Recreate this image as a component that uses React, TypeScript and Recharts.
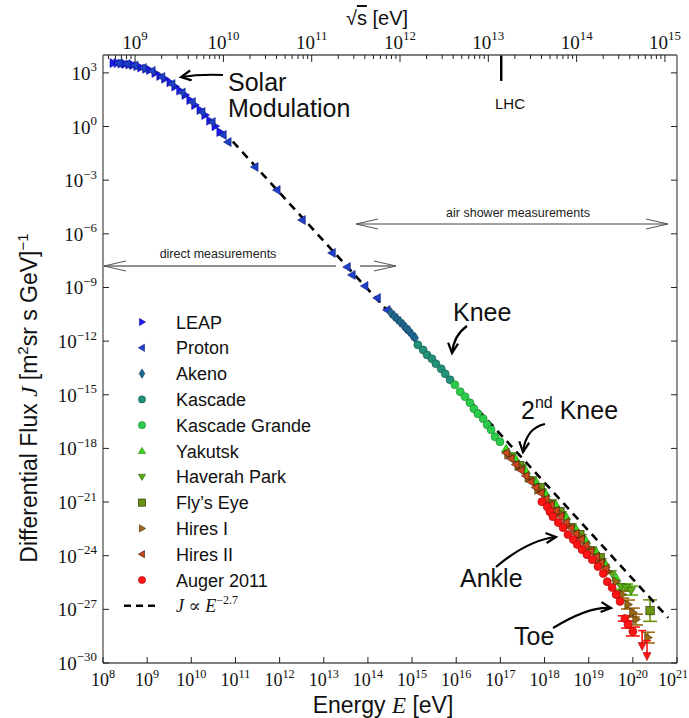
import React from 'react';
import { ScatterChart, Scatter, XAxis, YAxis, ErrorBar, Legend, ReferenceLine } from 'recharts';

// All values are log10: energy E in eV, flux J in m^-2 sr^-1 s^-1 GeV^-1.
// Optional third entry is the error in decades.
type Pt = [number, number, number?];

const leap: Pt[] = [
  [8.23, 3.55], [8.32, 3.55], [8.41, 3.52], [8.5, 3.5], [8.59, 3.47], [8.68, 3.44],
  [8.77, 3.38], [8.86, 3.3], [8.97, 3.23], [9.06, 3.16], [9.18, 3.0], [9.29, 2.83],
  [9.4, 2.67], [9.52, 2.47], [9.63, 2.24], [9.74, 2.01], [9.86, 1.77], [9.97, 1.48],
  [10.08, 1.2], [10.2, 0.92], [10.31, 0.64], [10.42, 0.33], [10.54, 0.02], [10.65, -0.31],
];

const proton: Pt[] = [
  [8.36, 3.54], [8.54, 3.49], [8.72, 3.41], [8.91, 3.27], [9.11, 3.11], [9.33, 2.77],
  [9.56, 2.38], [9.79, 1.9], [10.02, 1.37], [10.24, 0.81], [10.47, 0.25], [10.72, -0.47],
  [10.83, -0.87], [11.44, -2.26], [11.94, -3.55], [12.51, -5.23], [13.19, -7.07],
  [13.53, -7.86], [13.64, -8.3], [13.93, -8.92], [14.21, -9.59], [14.43, -10.26],
];

const akeno: Pt[] = [
  [14.52, -10.42], [14.59, -10.59], [14.66, -10.75], [14.73, -10.92], [14.8, -11.09],
  [14.86, -11.26], [14.93, -11.42], [15.0, -11.65], [15.07, -11.82],
];

const kascade: Pt[] = [
  [15.13, -12.21], [15.25, -12.49], [15.34, -12.77], [15.45, -12.99], [15.54, -13.27],
  [15.66, -13.55], [15.75, -13.83], [15.86, -14.16],
];

const kascadeGrande: Pt[] = [
  [15.97, -14.44], [16.09, -14.83], [16.2, -15.11], [16.31, -15.45], [16.4, -15.78],
  [16.49, -16.06], [16.61, -16.34], [16.7, -16.68], [16.79, -16.96], [16.88, -17.35],
  [16.99, -17.63],
];

const yakutsk: Pt[] = [
  [17.13, -18.02], [17.35, -18.58], [17.58, -19.25], [17.81, -19.86], [18.03, -20.53],
  [18.26, -21.15], [18.49, -21.82], [18.71, -22.49], [18.94, -23.16], [19.17, -23.77],
  [19.39, -24.5], [19.62, -25.22],
];

const haverahPark: Pt[] = [
  [17.26, -18.41], [17.49, -19.08], [17.72, -19.75], [17.94, -20.42], [18.17, -21.03],
  [18.4, -21.7], [18.62, -22.37], [18.85, -22.98], [19.08, -23.66], [19.3, -24.33],
  [19.53, -25.0], [19.73, -25.73, 0.15], [19.85, -25.78, 0.2], [19.96, -25.95, 0.25],
];

const flysEye: Pt[] = [
  [17.44, -18.97], [17.9, -20.2], [18.35, -21.54], [18.8, -22.82], [19.26, -24.11],
  [20.39, -27.07, 0.6],
];

const hiresI: Pt[] = [
  [17.17, -18.35], [17.4, -18.97], [17.63, -19.64], [17.85, -20.31], [18.08, -20.92],
  [18.31, -21.59], [18.53, -22.26], [18.76, -22.88], [18.99, -23.55], [19.21, -24.22],
  [19.44, -24.89], [19.62, -25.45], [19.76, -26.17, 0.2], [19.89, -26.73, 0.25],
  [20.0, -27.18, 0.25], [20.07, -27.57, 0.3], [20.34, -28.58, 0.3],
];

const hiresII: Pt[] = [
  [17.13, -18.25], [17.24, -18.58], [17.35, -18.9], [17.47, -19.22], [17.58, -19.54],
  [17.69, -19.87], [17.8, -20.19], [17.92, -20.51], [18.03, -20.83], [18.15, -21.16],
  [18.26, -21.48], [18.37, -21.8], [18.49, -22.13], [18.6, -22.45], [18.71, -22.77],
  [18.83, -23.09], [18.94, -23.42], [19.05, -23.74], [19.17, -24.06], [19.28, -24.39],
  [19.39, -24.71],
];

const auger: Pt[] = [
  [17.94, -20.98], [18.06, -21.26], [18.12, -21.54], [18.19, -21.82], [18.31, -22.15],
  [18.42, -22.43], [18.53, -22.82], [18.65, -23.1], [18.74, -23.38], [18.85, -23.66],
  [18.96, -23.94], [19.08, -24.22], [19.21, -24.61], [19.33, -25.0], [19.42, -25.45],
  [19.53, -25.78], [19.62, -26.17], [19.71, -26.56], [19.82, -27.51, 0.15],
  [19.89, -27.85, 0.2], [20.0, -28.24, 0.25],
];

const augerLimits: Pt[] = [[20.21, -28.97], [20.32, -29.53]];

// J ∝ E^-2.7 reference line, end points
const powerLaw: Pt[] = [[10.94, -0.84], [20.8, -27.47]];

const xTicks = [8, 9, 10, 11, 12, 13, 14, 15, 16, 17, 18, 19, 20, 21];
const yTicks = [-30, -27, -24, -21, -18, -15, -12, -9, -6, -3, 0, 3];
const LHC_SQRT_S = 1.4e13;

// fixed target: s = 2 m_p E  ->  log E = 2 log sqrt(s) - log(2 m_p)
const LOG_2MP = Math.log10(2 * 0.938e9);
const toLogE = (logSqrtS: number) => 2 * logSqrtS - LOG_2MP;

const W = 689;
const H = 718;
const PLOT = { left: 103, right: 677, top: 55, bottom: 663 };
const X_DOMAIN: [number, number] = [8, 21];
const Y_DOMAIN: [number, number] = [-30, 4];

const SANS = '"Liberation Sans", Arial, Helvetica, sans-serif';
const SERIF = '"Liberation Serif", "DejaVu Serif", serif';
const AXIS = { stroke: '#555', strokeWidth: 1.3 };

const topTicks: number[] = [];
for (let n = 8; n <= 15; n++) {
  for (let k = 1; k <= 9; k++) {
    const v = toLogE(n + Math.log10(k));
    if (v >= X_DOMAIN[0] && v <= X_DOMAIN[1]) topTicks.push(v);
  }
}

type Kind = 'right' | 'left' | 'diamond' | 'circle' | 'up' | 'down' | 'square' | 'limit';

function glyph(kind: Kind, cx: number, cy: number, r: number, fill: string, stroke: string, sw = 0.6) {
  const poly = (pts: number[][]) => (
    <polygon points={pts.map((p) => p.join(',')).join(' ')} fill={fill} stroke={stroke} strokeWidth={sw} />
  );
  switch (kind) {
    case 'circle':
      return <circle cx={cx} cy={cy} r={r} fill={fill} stroke={stroke} strokeWidth={sw} />;
    case 'square':
      return <rect x={cx - r} y={cy - r} width={2 * r} height={2 * r} fill={fill} stroke={stroke} strokeWidth={sw} />;
    case 'diamond':
      return poly([[cx, cy - r * 1.3], [cx + r * 0.8, cy], [cx, cy + r * 1.3], [cx - r * 0.8, cy]]);
    case 'right':
      return poly([[cx + r, cy], [cx - r * 0.7, cy - r], [cx - r * 0.7, cy + r]]);
    case 'left':
      return poly([[cx - r, cy], [cx + r * 0.7, cy - r], [cx + r * 0.7, cy + r]]);
    case 'up':
      return poly([[cx, cy - r], [cx + r, cy + r * 0.7], [cx - r, cy + r * 0.7]]);
    case 'down':
      return poly([[cx, cy + r], [cx + r, cy - r * 0.7], [cx - r, cy - r * 0.7]]);
    case 'limit':
      return (
        <g>
          <line x1={cx} x2={cx} y1={cy - 14} y2={cy} stroke={fill} strokeWidth={1.6} />
          <line x1={cx - 4} x2={cx + 4} y1={cy - 14} y2={cy - 14} stroke={fill} strokeWidth={1.6} />
          {poly([[cx, cy + r + 2], [cx + r, cy - 2], [cx - r, cy - 2]])}
        </g>
      );
  }
  return <g />;
}

interface SeriesDef { name: string; data: Pt[]; kind: Kind; fill: string; stroke: string; r: number }

const SERIES: SeriesDef[] = [
  { name: 'LEAP', data: leap, kind: 'right', fill: '#1a1aee', stroke: '#0c0c9a', r: 4.5 },
  { name: 'Proton', data: proton, kind: 'left', fill: '#1f3fc6', stroke: '#10237a', r: 4.5 },
  { name: 'Akeno', data: akeno, kind: 'diamond', fill: '#1f6690', stroke: '#123e58', r: 4.2 },
  { name: 'Kascade', data: kascade, kind: 'circle', fill: '#22917a', stroke: '#145a4a', r: 4 },
  { name: 'Kascade Grande', data: kascadeGrande, kind: 'circle', fill: '#2bcc4c', stroke: '#17822c', r: 4 },
  { name: 'Yakutsk', data: yakutsk, kind: 'up', fill: '#3ad81a', stroke: '#1f7a0c', r: 4.5 },
  { name: 'Haverah Park', data: haverahPark, kind: 'down', fill: '#5aae14', stroke: '#2f620a', r: 4.5 },
  { name: "Fly’s Eye", data: flysEye, kind: 'square', fill: '#6a9410', stroke: '#1e2a04', r: 4.2 },
  { name: 'Hires I', data: hiresI, kind: 'right', fill: '#9c6a12', stroke: '#3a2604', r: 4.5 },
  { name: 'Hires II', data: hiresII, kind: 'left', fill: '#c9481c', stroke: '#3c1306', r: 4.5 },
  { name: 'Auger 2011', data: auger, kind: 'circle', fill: '#ff1414', stroke: '#a00808', r: 4 },
];

const toRows = (pts: Pt[]) => pts.map(([x, y, err]) => ({ x, y, err }));

function PowerLabel({ x, y, exp, anchor, size = 19 }: { x: number; y: number; exp: number; anchor: 'start' | 'middle' | 'end'; size?: number }) {
  return (
    <text x={x} y={y} textAnchor={anchor} fontFamily={SERIF} fontSize={size} fill="#111">
      10<tspan dy={-size * 0.45} fontSize={size * 0.68}>{exp < 0 ? `\u2212${-exp}` : exp}</tspan>
    </text>
  );
}

const BottomTick = (props: any) => {
  const { x, y, payload } = props;
  // keep the last label inside the page
  const lx = Math.min(x, W - 16);
  return (
    <g>
      <line x1={x} x2={x} y1={y} y2={y - 6} stroke="#222" strokeWidth={1} />
      <PowerLabel x={lx} y={y + 23} exp={payload.value} anchor="middle" size={18} />
    </g>
  );
};

const TopTick = (props: any) => {
  const { x, y, payload } = props;
  const n = (payload.value + LOG_2MP) / 2;
  const major = Math.abs(n - Math.round(n)) < 1e-6;
  return (
    <g>
      <line x1={x} x2={x} y1={y} y2={y + (major ? 7 : 4)} stroke="#222" strokeWidth={1} />
      {major && <PowerLabel x={x} y={y - 6} exp={Math.round(n)} anchor="middle" />}
    </g>
  );
};

const LeftTick = (props: any) => {
  const { x, y, payload } = props;
  return (
    <g>
      <line x1={x} x2={x + 6} y1={y} y2={y} stroke="#222" strokeWidth={1} />
      <PowerLabel x={x - 6} y={y + 7} exp={payload.value} anchor="end" />
    </g>
  );
};

const RightTick = (props: any) => {
  const { x, y } = props;
  return <line x1={x} x2={x - 6} y1={y} y2={y} stroke="#222" strokeWidth={1} />;
};

function LegendBox() {
  const rowY = (i: number) => 22 + i * 25.8;
  return (
    <svg width={230} height={320} style={{ display: 'block' }}>
      {SERIES.map((s, i) => (
        <g key={s.name}>
          {glyph(s.kind, 32, rowY(i), 3.6, s.fill, s.stroke)}
          <text x={66} y={rowY(i) + 6.5} fontFamily={SANS} fontSize={18} fill="#111">{s.name}</text>
        </g>
      ))}
      <line x1={14} x2={50} y1={rowY(11)} y2={rowY(11)} stroke="#000" strokeWidth={2.5} strokeDasharray="7 5" />
      <text x={66} y={rowY(11) + 6} fontFamily={SERIF} fontSize={18} fill="#111">
        <tspan fontStyle="italic">J</tspan> ∝ <tspan fontStyle="italic">E</tspan>
        <tspan dy={-8} fontSize={12}>−2.7</tspan>
      </text>
    </svg>
  );
}

// Open "V" arrow head at the end of a path
function Arrow({ d }: { d: string }) {
  return <path d={d} fill="none" stroke="#000" strokeWidth={2.2} markerEnd="url(#head)" />;
}

function SpanArrow({ x1, x2, y, gap }: { x1: number; x2: number; y: number; gap?: [number, number] }) {
  const head = (tip: number, dir: number) => (
    <path d={`M${tip + dir * 22},${y - 5} L${tip},${y} L${tip + dir * 22},${y + 5}`} fill="none" stroke="#555" strokeWidth={1} />
  );
  return (
    <g>
      {gap ? (
        <>
          <line x1={x1} x2={gap[0]} y1={y} y2={y} stroke="#222" strokeWidth={1} />
          <line x1={gap[1]} x2={x2} y1={y} y2={y} stroke="#222" strokeWidth={1} />
        </>
      ) : (
        <line x1={x1} x2={x2} y1={y} y2={y} stroke="#444" strokeWidth={1} />
      )}
      {head(x1, 1)}
      {head(x2, -1)}
    </g>
  );
}

function Annotations() {
  return (
    <svg width={W} height={H} style={{ position: 'absolute', left: 0, top: 0, pointerEvents: 'none' }}>
      <defs>
        <marker id="head" markerUnits="userSpaceOnUse" markerWidth={16} markerHeight={16} refX={11} refY={6} orient="auto">
          <path d="M1,1 L11,6 L1,11" fill="none" stroke="#000" strokeWidth={2.2} />
        </marker>
      </defs>

      {/* axis titles */}
      <text x={377} y={25} textAnchor="middle" fontFamily={SANS} fontSize={20} fill="#111">
        √<tspan textDecoration="overline">s</tspan> [eV]
      </text>
      <text x={383} y={713} textAnchor="middle" fontFamily={SANS} fontSize={23} fill="#111">
        Energy <tspan fontFamily={SERIF} fontStyle="italic">E</tspan> [eV]
      </text>
      <text transform="translate(37,398) rotate(-90)" textAnchor="middle" fontFamily={SANS} fontSize={23} fill="#111">
        Differential Flux <tspan fontFamily={SERIF} fontStyle="italic">J</tspan> [m<tspan dy={-9} fontSize={15}>2</tspan>
        <tspan dy={9}>sr s GeV]</tspan><tspan dy={-9} fontSize={15}>−1</tspan>
      </text>

      {/* measurement ranges */}
      <SpanArrow x1={356} x2={668} y={224} />
      <text x={518} y={217} textAnchor="middle" fontFamily={SANS} fontSize={12.5} fill="#222">air shower measurements</text>
      <SpanArrow x1={104} x2={396} y={266} gap={[336, 360]} />
      <text x={218} y={258} textAnchor="middle" fontFamily={SANS} fontSize={12.5} fill="#222">direct measurements</text>

      {/* labelled features */}
      <text x={228} y={91} fontFamily={SANS} fontSize={25} fill="#111">Solar</text>
      <text x={228} y={117} fontFamily={SANS} fontSize={25} fill="#111">Modulation</text>
      <Arrow d="M223,75 Q200,74 181,77" />

      <text x={495} y={109} fontFamily={SANS} fontSize={15} fill="#111">LHC</text>

      <text x={453} y={321} fontFamily={SANS} fontSize={25} fill="#111">Knee</text>
      <Arrow d="M467,326 Q454,335 452,353" />

      <text x={521} y={419} fontFamily={SANS} fontSize={25} fill="#111">
        2<tspan dy={-11} fontSize={16}>nd</tspan><tspan dy={11}> Knee</tspan>
      </text>
      <Arrow d="M545,424 Q526,428 523,452" />

      <text x={460} y={587} fontFamily={SANS} fontSize={25} fill="#111">Ankle</text>
      <Arrow d="M496,567 Q528,540 556,537" />

      <text x={514} y={645} fontFamily={SANS} fontSize={25} fill="#111">Toe</text>
      <Arrow d="M553,628 Q589,606 611,608" />
    </svg>
  );
}

export default function App() {
  const lhcX = toLogE(Math.log10(LHC_SQRT_S));
  return (
    <div style={{ position: 'absolute', left: 0, top: 0, width: W, height: H, background: '#fff' }}>
      <ScatterChart width={W} height={H} margin={{ top: 0, right: 0, bottom: 0, left: 0 }}>
        <XAxis
          xAxisId="bottom" dataKey="x" type="number" orientation="bottom" domain={X_DOMAIN} allowDataOverflow
          ticks={xTicks} interval={0} height={H - PLOT.bottom} tickSize={0} tickMargin={0}
          tickLine={false} axisLine={AXIS} tick={<BottomTick />}
        />
        <XAxis
          xAxisId="top" dataKey="x" type="number" orientation="top" domain={X_DOMAIN} allowDataOverflow
          ticks={topTicks} interval={0} height={PLOT.top} tickSize={0} tickMargin={0}
          tickLine={false} axisLine={AXIS} tick={<TopTick />}
        />
        <YAxis
          yAxisId="left" dataKey="y" type="number" orientation="left" domain={Y_DOMAIN} allowDataOverflow
          ticks={yTicks} interval={0} width={PLOT.left} tickSize={0} tickMargin={0}
          tickLine={false} axisLine={AXIS} tick={<LeftTick />}
        />
        <YAxis
          yAxisId="right" dataKey="y" type="number" orientation="right" domain={Y_DOMAIN} allowDataOverflow
          ticks={yTicks} interval={0} width={W - PLOT.right} tickSize={0} tickMargin={0}
          tickLine={false} axisLine={AXIS} tick={<RightTick />}
        />

        <ReferenceLine
          xAxisId="top" yAxisId="right" ifOverflow="visible"
          segment={[{ x: lhcX, y: 4 }, { x: lhcX, y: 2.55 }]}
          stroke="#000" strokeWidth={2.5}
        />

        <Scatter
          xAxisId="top" yAxisId="right" data={toRows(powerLaw)} legendType="none" isAnimationActive={false}
          line={{ stroke: '#000', strokeWidth: 2.6, strokeDasharray: '8 6' }}
          shape={() => <g />}
        />

        {SERIES.map((s) => (
          <Scatter
            key={s.name} name={s.name} xAxisId="bottom" yAxisId="left" data={toRows(s.data)}
            isAnimationActive={false}
            shape={(p: any) => glyph(s.kind, p.cx, p.cy, s.r, s.fill, s.stroke)}
          >
            {s.data.some((d) => d[2]) && (
              <ErrorBar dataKey="err" direction="y" width={7} stroke={s.fill} strokeWidth={1.6} />
            )}
          </Scatter>
        ))}

        <Scatter
          xAxisId="bottom" yAxisId="left" data={toRows(augerLimits)} legendType="none" isAnimationActive={false}
          shape={(p: any) => glyph('limit', p.cx, p.cy, 4, '#ff1414', '#a00808')}
        />

        <Legend
          layout="vertical" verticalAlign="middle" align="center"
          wrapperStyle={{ left: 110, top: 300, width: 230, height: 320 }}
          content={() => <LegendBox />}
        />
      </ScatterChart>
      <Annotations />
    </div>
  );
}
